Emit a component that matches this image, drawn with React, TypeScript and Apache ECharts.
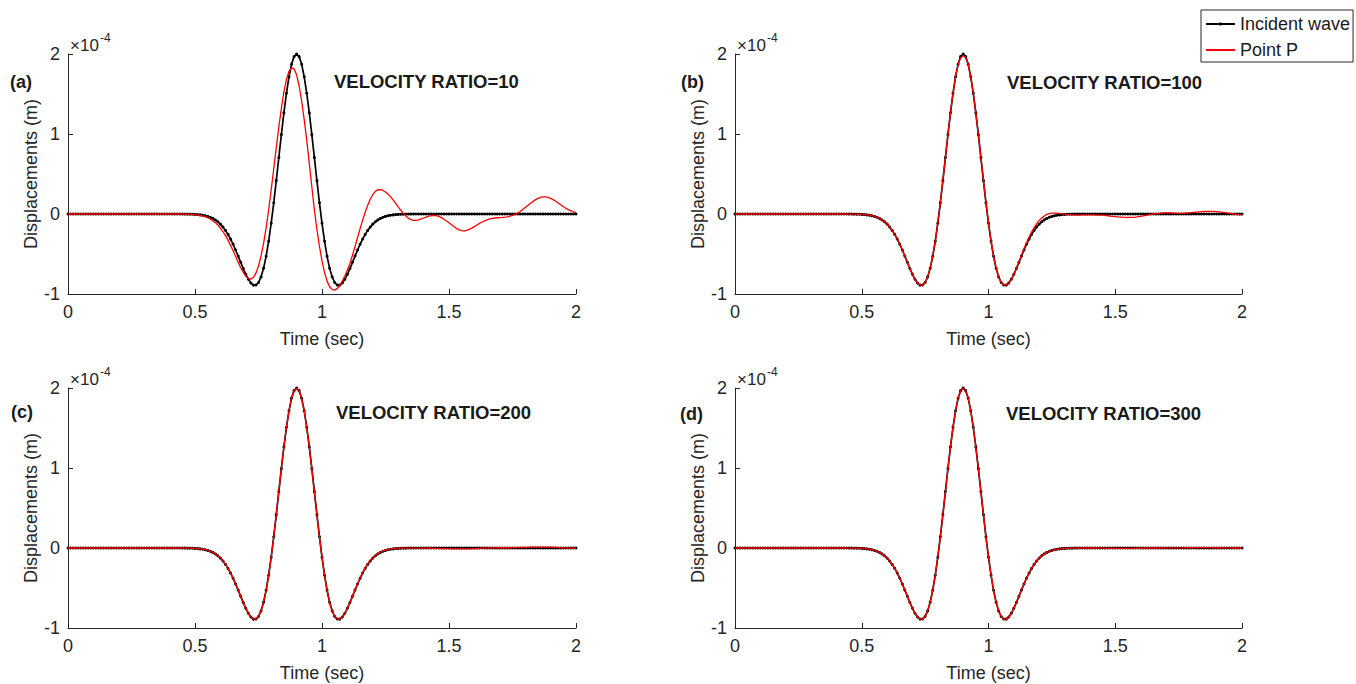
import React, { useEffect, useRef } from "react";
import * as echarts from "echarts";

// ---------- data (values in units of 1e-4 m, sampled every 0.01 s from 0 to 2 s) ----------
const T_START = 0;
const T_STEP = 0.01;
const X_MIN = 0;
const X_MAX = 2;
const X_INTERVAL = 0.5;
const Y_MIN = -1;
const Y_MAX = 2;
const Y_INTERVAL = 1;

const SERIES_NAMES = ["Incident wave", "Point P"];
const PANEL_LABELS = ["(a)", "(b)", "(c)", "(d)"];
const PANEL_TITLES = [
  "VELOCITY RATIO=10",
  "VELOCITY RATIO=100",
  "VELOCITY RATIO=200",
  "VELOCITY RATIO=300",
];
const X_NAME = "Time (sec)";
const Y_NAME = "Displacements (m)";
const EXP_BASE = "×10";
const EXP_POWER = "-4";

const INCIDENT = [
  0, 0, 0, 0, 0, 0, 0, 0, 0, 0,
  0, 0, 0, 0, 0, 0, 0, 0, 0, 0,
  0, 0, 0, 0, 0, 0, 0, 0, 0, 0,
  0, 0, 0, 0, 0, 0, 0, 0, 0, 0,
  0, 0, 0, 0, 0, -0.001, -0.001, -0.002, -0.002, -0.003,
  -0.005, -0.007, -0.011, -0.015, -0.021, -0.030, -0.041, -0.055, -0.074, -0.097,
  -0.126, -0.162, -0.205, -0.255, -0.313, -0.378, -0.450, -0.526, -0.604, -0.682,
  -0.754, -0.816, -0.863, -0.889, -0.888, -0.856, -0.786, -0.678, -0.529, -0.340,
  -0.115, 0.140, 0.417, 0.705, 0.992, 1.264, 1.509, 1.715, 1.871, 1.967,
  2.000, 1.967, 1.871, 1.715, 1.509, 1.264, 0.992, 0.705, 0.417, 0.140,
  -0.115, -0.340, -0.529, -0.678, -0.786, -0.856, -0.888, -0.889, -0.863, -0.816,
  -0.754, -0.682, -0.604, -0.526, -0.450, -0.378, -0.313, -0.255, -0.205, -0.162,
  -0.126, -0.097, -0.074, -0.055, -0.041, -0.030, -0.021, -0.015, -0.011, -0.007,
  -0.005, -0.003, -0.002, -0.002, -0.001, -0.001, 0, 0, 0, 0,
  0, 0, 0, 0, 0, 0, 0, 0, 0, 0,
  0, 0, 0, 0, 0, 0, 0, 0, 0, 0,
  0, 0, 0, 0, 0, 0, 0, 0, 0, 0,
  0, 0, 0, 0, 0, 0, 0, 0, 0, 0,
  0, 0, 0, 0, 0, 0, 0, 0, 0, 0,
  0, 0, 0, 0, 0, 0, 0, 0, 0, 0,
  0,
];

const POINT_P_10 = [
  0, 0, 0, 0, 0, 0, 0, 0, 0, 0,
  0, 0, 0, 0, 0, 0, 0, 0, 0, 0,
  0, 0, 0, 0, 0, 0, 0, 0, 0, 0,
  0, 0, 0, 0, 0, 0, 0, 0, 0, 0,
  0, 0, 0, 0, 0, -0.001, -0.002, -0.003, -0.004, -0.006,
  -0.009, -0.013, -0.018, -0.025, -0.034, -0.046, -0.062, -0.083, -0.108, -0.138,
  -0.175, -0.219, -0.270, -0.327, -0.392, -0.460, -0.531, -0.603, -0.671, -0.731,
  -0.777, -0.806, -0.813, -0.792, -0.739, -0.650, -0.525, -0.366, -0.174, 0.053,
  0.305, 0.566, 0.830, 1.088, 1.318, 1.527, 1.681, 1.784, 1.827, 1.815,
  1.740, 1.600, 1.410, 1.180, 0.920, 0.630, 0.340, 0.050, -0.193, -0.406,
  -0.587, -0.732, -0.839, -0.909, -0.945, -0.951, -0.933, -0.893, -0.839, -0.773,
  -0.699, -0.620, -0.516, -0.407, -0.294, -0.183, -0.076, 0.022, 0.111, 0.185,
  0.243, 0.283, 0.303, 0.305, 0.294, 0.275, 0.248, 0.215, 0.176, 0.134,
  0.090, 0.048, 0.009, -0.024, -0.051, -0.070, -0.080, -0.080, -0.073, -0.062,
  -0.050, -0.038, -0.028, -0.021, -0.018, -0.021, -0.030, -0.045, -0.065, -0.088,
  -0.110, -0.135, -0.160, -0.182, -0.198, -0.208, -0.210, -0.205, -0.193, -0.177,
  -0.158, -0.138, -0.118, -0.100, -0.085, -0.072, -0.062, -0.055, -0.050, -0.047,
  -0.045, -0.043, -0.040, -0.035, -0.028, -0.018, -0.005, 0.010, 0.030, 0.055,
  0.080, 0.105, 0.130, 0.155, 0.177, 0.195, 0.207, 0.213, 0.213, 0.207,
  0.196, 0.180, 0.160, 0.138, 0.115, 0.093, 0.072, 0.055, 0.040, 0.028,
  0.020,
];

const POINT_P_100 = [
  0, 0, 0, 0, 0, 0, 0, 0, 0, 0,
  0, 0, 0, 0, 0, 0, 0, 0, 0, 0,
  0, 0, 0, 0, 0, 0, 0, 0, 0, 0,
  0, 0, 0, 0, 0, 0, 0, 0, 0, 0,
  0, 0, 0, 0, 0, -0.001, -0.001, -0.002, -0.002, -0.003,
  -0.005, -0.007, -0.011, -0.015, -0.021, -0.030, -0.041, -0.055, -0.074, -0.097,
  -0.126, -0.162, -0.205, -0.255, -0.313, -0.378, -0.450, -0.526, -0.604, -0.682,
  -0.754, -0.816, -0.863, -0.889, -0.888, -0.856, -0.786, -0.678, -0.529, -0.340,
  -0.115, 0.140, 0.417, 0.705, 0.992, 1.264, 1.509, 1.715, 1.871, 1.950,
  1.980, 1.955, 1.871, 1.715, 1.509, 1.264, 0.992, 0.705, 0.417, 0.140,
  -0.115, -0.340, -0.529, -0.678, -0.786, -0.856, -0.888, -0.889, -0.863, -0.816,
  -0.754, -0.682, -0.604, -0.515, -0.435, -0.360, -0.290, -0.225, -0.170, -0.120,
  -0.080, -0.050, -0.025, -0.005, 0.006, 0.011, 0.012, 0.010, 0.006, 0.002,
  -0.002, -0.006, -0.009, -0.011, -0.012, -0.013, -0.013, -0.012, -0.011, -0.010,
  -0.010, -0.011, -0.012, -0.013, -0.014, -0.015, -0.018, -0.022, -0.026, -0.030,
  -0.033, -0.036, -0.038, -0.040, -0.041, -0.042, -0.042, -0.041, -0.038, -0.034,
  -0.029, -0.023, -0.017, -0.011, -0.005, 0.000, 0.005, 0.009, 0.012, 0.014,
  0.015, 0.015, 0.014, 0.012, 0.010, 0.009, 0.009, 0.010, 0.012, 0.015,
  0.018, 0.021, 0.024, 0.027, 0.029, 0.031, 0.032, 0.033, 0.033, 0.032,
  0.030, 0.027, 0.023, 0.018, 0.013, 0.008, 0.003, -0.002, -0.006, -0.010,
  -0.012,
];

const POINT_P_200 = [
  0, 0, 0, 0, 0, 0, 0, 0, 0, 0,
  0, 0, 0, 0, 0, 0, 0, 0, 0, 0,
  0, 0, 0, 0, 0, 0, 0, 0, 0, 0,
  0, 0, 0, 0, 0, 0, 0, 0, 0, 0,
  0, 0, 0, 0, 0, -0.001, -0.001, -0.002, -0.002, -0.003,
  -0.005, -0.007, -0.011, -0.015, -0.021, -0.030, -0.041, -0.055, -0.074, -0.097,
  -0.126, -0.162, -0.205, -0.255, -0.313, -0.378, -0.450, -0.526, -0.604, -0.682,
  -0.754, -0.816, -0.863, -0.889, -0.888, -0.856, -0.786, -0.678, -0.529, -0.340,
  -0.115, 0.140, 0.417, 0.705, 0.992, 1.264, 1.509, 1.715, 1.871, 1.965,
  1.995, 1.965, 1.871, 1.715, 1.509, 1.264, 0.992, 0.705, 0.417, 0.140,
  -0.115, -0.340, -0.529, -0.678, -0.786, -0.856, -0.888, -0.889, -0.863, -0.816,
  -0.754, -0.682, -0.604, -0.524, -0.447, -0.374, -0.308, -0.249, -0.198, -0.155,
  -0.119, -0.090, -0.068, -0.050, -0.036, -0.026, -0.018, -0.012, -0.008, -0.005,
  -0.003, -0.002, -0.002, -0.002, -0.002, -0.002, -0.002, -0.002, -0.002, -0.002,
  -0.002, -0.002, -0.003, -0.003, -0.004, -0.004, -0.005, -0.006, -0.007, -0.008,
  -0.009, -0.010, -0.011, -0.011, -0.012, -0.012, -0.012, -0.011, -0.010, -0.009,
  -0.007, -0.006, -0.004, -0.003, -0.002, -0.001, 0.000, 0.001, 0.002, 0.002,
  0.003, 0.003, 0.003, 0.003, 0.003, 0.004, 0.004, 0.005, 0.006, 0.007,
  0.008, 0.009, 0.010, 0.011, 0.011, 0.012, 0.012, 0.012, 0.012, 0.011,
  0.010, 0.009, 0.008, 0.006, 0.005, 0.003, 0.002, 0.000, -0.001, -0.002,
  -0.003,
];

const POINT_P_300 = [
  0, 0, 0, 0, 0, 0, 0, 0, 0, 0,
  0, 0, 0, 0, 0, 0, 0, 0, 0, 0,
  0, 0, 0, 0, 0, 0, 0, 0, 0, 0,
  0, 0, 0, 0, 0, 0, 0, 0, 0, 0,
  0, 0, 0, 0, 0, -0.001, -0.001, -0.002, -0.002, -0.003,
  -0.005, -0.007, -0.011, -0.015, -0.021, -0.030, -0.041, -0.055, -0.074, -0.097,
  -0.126, -0.162, -0.205, -0.255, -0.313, -0.378, -0.450, -0.526, -0.604, -0.682,
  -0.754, -0.816, -0.863, -0.889, -0.888, -0.856, -0.786, -0.678, -0.529, -0.340,
  -0.115, 0.140, 0.417, 0.705, 0.992, 1.264, 1.509, 1.715, 1.871, 1.967,
  1.998, 1.967, 1.871, 1.715, 1.509, 1.264, 0.992, 0.705, 0.417, 0.140,
  -0.115, -0.340, -0.529, -0.678, -0.786, -0.856, -0.888, -0.889, -0.863, -0.816,
  -0.754, -0.682, -0.604, -0.526, -0.450, -0.378, -0.313, -0.255, -0.205, -0.162,
  -0.126, -0.097, -0.074, -0.055, -0.041, -0.030, -0.021, -0.015, -0.011, -0.007,
  -0.005, -0.003, -0.002, -0.002, -0.001, -0.001, 0, 0, 0, 0,
  0, 0, 0, 0, -0.001, -0.001, -0.002, -0.002, -0.003, -0.003,
  -0.004, -0.004, -0.004, -0.005, -0.005, -0.005, -0.004, -0.004, -0.003, -0.003,
  -0.002, -0.001, 0, 0, 0, 0, 0, 0, 0, 0.001,
  0.001, 0.001, 0.001, 0.001, 0.001, 0.001, 0.002, 0.002, 0.002, 0.003,
  0.003, 0.003, 0.004, 0.004, 0.004, 0.004, 0.004, 0.004, 0.004, 0.003,
  0.003, 0.003, 0.002, 0.002, 0.001, 0.001, 0, 0, 0, 0,
  0,
];

const POINT_P = [POINT_P_10, POINT_P_100, POINT_P_200, POINT_P_300];

// ---------- layout / style ----------
const GRIDS = [
  { left: 68, top: 54, width: 508, height: 240 },
  { left: 735, top: 54, width: 507, height: 240 },
  { left: 68, top: 388, width: 508, height: 240 },
  { left: 735, top: 388, width: 507, height: 240 },
];
const TITLE_POS = [
  [334, 81],
  [1007, 82],
  [336, 412],
  [1006, 413],
];
const LABEL_POS = [
  [10, 82],
  [681, 82],
  [11, 412],
  [680, 414],
];

const AXIS_COLOR = "#262626";
const FONT = '"Liberation Sans", Arial, Helvetica, sans-serif';

function toPairs(vals: number[]) {
  return vals.map((v, i) => [+(T_START + i * T_STEP).toFixed(2), v]);
}

function buildOption() {
  const grid: any[] = [];
  const xAxis: any[] = [];
  const yAxis: any[] = [];
  const series: any[] = [];
  const graphic: any[] = [];

  GRIDS.forEach((g, p) => {
    grid.push({ ...g, containLabel: false, outerBoundsMode: "none" });
    xAxis.push({
      type: "value",
      gridIndex: p,
      min: X_MIN,
      max: X_MAX,
      interval: X_INTERVAL,
      name: X_NAME,
      nameLocation: "middle",
      nameGap: 36,
      nameTextStyle: { fontFamily: FONT, fontSize: 18, color: AXIS_COLOR },
      axisLine: { show: true, onZero: false, lineStyle: { color: AXIS_COLOR, width: 1 } },
      axisTick: { show: true, inside: true, length: 5, lineStyle: { color: AXIS_COLOR, width: 1 } },
      axisLabel: { show: true, margin: 9, fontFamily: FONT, fontSize: 18, color: AXIS_COLOR },
      splitLine: { show: false },
    });
    yAxis.push({
      type: "value",
      gridIndex: p,
      min: Y_MIN,
      max: Y_MAX,
      interval: Y_INTERVAL,
      name: Y_NAME,
      nameLocation: "middle",
      nameGap: 27,
      nameTextStyle: { fontFamily: FONT, fontSize: 18, color: AXIS_COLOR },
      axisLine: { show: true, onZero: false, lineStyle: { color: AXIS_COLOR, width: 1 } },
      axisTick: { show: true, inside: true, length: 5, lineStyle: { color: AXIS_COLOR, width: 1 } },
      axisLabel: { show: true, margin: 8, fontFamily: FONT, fontSize: 18, color: AXIS_COLOR },
      splitLine: { show: false },
    });
    series.push({
      type: "line",
      name: SERIES_NAMES[0],
      xAxisIndex: p,
      yAxisIndex: p,
      data: toPairs(INCIDENT),
      symbol: "circle",
      symbolSize: 3,
      showSymbol: true,
      lineStyle: { color: "#000000", width: 1.7 },
      itemStyle: { color: "#000000" },
      emphasis: { disabled: true },
      silent: true,
      z: 2,
    });
    series.push({
      type: "line",
      name: SERIES_NAMES[1],
      xAxisIndex: p,
      yAxisIndex: p,
      data: toPairs(POINT_P[p]),
      symbol: "none",
      showSymbol: false,
      lineStyle: { color: "#ff0000", width: 1.3 },
      itemStyle: { color: "#ff0000" },
      emphasis: { disabled: true },
      silent: true,
      z: 3,
    });

    graphic.push({
      type: "text",
      x: TITLE_POS[p][0],
      y: TITLE_POS[p][1],
      style: {
        text: PANEL_TITLES[p],
        fontFamily: FONT,
        fontSize: 18.5,
        fontWeight: "bold",
        fill: "#1a1a1a",
        align: "left",
        verticalAlign: "middle",
      },
    });
    graphic.push({
      type: "text",
      x: LABEL_POS[p][0],
      y: LABEL_POS[p][1],
      style: {
        text: PANEL_LABELS[p],
        fontFamily: FONT,
        fontSize: 18,
        fontWeight: "bold",
        fill: "#1a1a1a",
        align: "left",
        verticalAlign: "middle",
      },
    });
    graphic.push({
      type: "text",
      x: g.left + 2,
      y: g.top - 9,
      style: {
        text: EXP_BASE,
        fontFamily: FONT,
        fontSize: 17,
        fill: AXIS_COLOR,
        align: "left",
        verticalAlign: "middle",
      },
    });
    graphic.push({
      type: "text",
      x: g.left + 32,
      y: g.top - 16,
      style: {
        text: EXP_POWER,
        fontFamily: FONT,
        fontSize: 12,
        fill: AXIS_COLOR,
        align: "left",
        verticalAlign: "middle",
      },
    });
  });

  return {
    animation: false,
    backgroundColor: "#ffffff",
    grid,
    xAxis,
    yAxis,
    series,
    graphic,
    legend: {
      show: true,
      data: [
        { name: SERIES_NAMES[0] },
        { name: SERIES_NAMES[1], itemStyle: { opacity: 0 } },
      ],
      orient: "vertical",
      left: 1201,
      top: 10,
      itemWidth: 29,
      itemHeight: 4,
      itemGap: 8,
      padding: [5, 3, 3, 4],
      borderColor: AXIS_COLOR,
      borderWidth: 1,
      borderRadius: 0,
      backgroundColor: "#ffffff",
      selectedMode: false,
      textStyle: { fontFamily: FONT, fontSize: 18, color: "#1a1a1a" },
    },
  };
}

export default function App() {
  const ref = useRef<HTMLDivElement>(null);
  useEffect(() => {
    if (!ref.current) return;
    const chart = echarts.init(ref.current, null, { renderer: "svg" });
    chart.setOption(buildOption() as any);
    return () => {
      chart.dispose();
    };
  }, []);
  return (
    <div
      ref={ref}
      style={{ position: "fixed", left: 0, top: 0, width: 1356, height: 684, background: "#ffffff" }}
    />
  );
}
